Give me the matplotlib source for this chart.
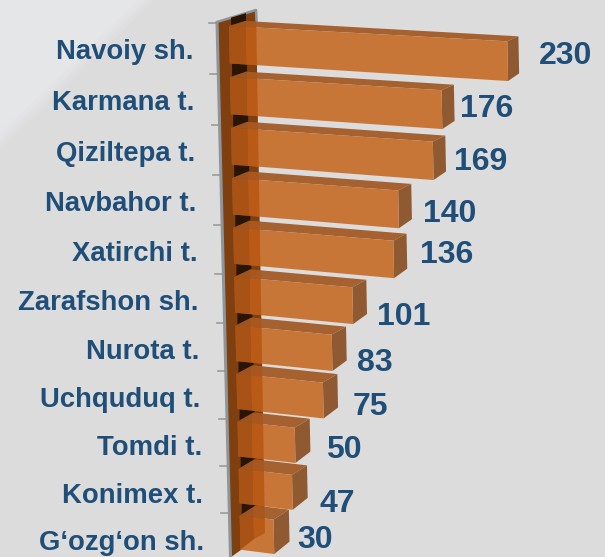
import matplotlib
matplotlib.use("Agg")
import matplotlib.pyplot as plt
from matplotlib.patches import Polygon

categories = ["Navoiy sh.", "Karmana t.", "Qiziltepa t.", "Navbahor t.", "Xatirchi t.",
              "Zarafshon sh.", "Nurota t.", "Uchquduq t.", "Tomdi t.", "Konimex t.", "G\u2018ozg\u2018on sh."]
values = [230, 176, 169, 140, 136, 101, 83, 75, 50, 47, 30]
# label nudges relative to the end of each bar (pixels)
value_nudge = [(58, -5), (45, -1), (47, 1), (51, 5), (53, -4), (51, 11), (43, 10), (47, 7), (49, 5), (45, 12), (41, 3)]

TEXT = "#1F4E79"
FRONT, TOP, SIDE = "#C87538", "#A5612F", "#8F5A31"
WALL, DARK, EDGE = "#7F3F0E", "#2A1503", "#8E9498"

W, H = 605, 557
fig = plt.figure(figsize=(W / 100, H / 100), dpi=100, facecolor="#DCDCDC")
ax = fig.add_axes([0, 0, 1, 1])
ax.set_xlim(0, W)
ax.set_ylim(H, 0)
ax.axis("off")


# ---- perspective projection of (category index, value, height fraction, depth)
def left_x(i): return 229 + 1.07 * i
def top_y(i): return 26 + 51.4 * i - 0.245 * i * i
def height(i): return 37.5 - 0.33 * i
def scale(i): return 1.21 - 0.0082 * i
def slope(i): return 0.055 + 0.0066 * i


def project(i, v, z=0.0, back=False):
    run = scale(i) * v
    x = left_x(i) + run + 0.02 * height(i) * z
    y = top_y(i) + slope(i) * run + (height(i) + 0.008 * run) * z
    if back:
        x += 16 - (x - 235) * 0.018
        y += -(5 + 0.5 * i) - 0.07 * height(i) * z
    return x, y


# ---- background sheen: soft-edged lighter corner
sheen = ["#DEDEDF", "#DFDFE1", "#E1E1E3", "#E2E3E5", "#E4E4E6", "#E5E6E8"]
for k, col in enumerate(sheen):
    r = 155 - 3.5 * k
    ax.add_patch(Polygon([(0, 0), (r, 0), (0, r * 0.97)], fc=col, ec="none"))

# ---- wall
wall_pts = [(217, 22), (256, 10), (265, 533), (231, 557)]
wall = Polygon(wall_pts, fc=WALL, ec="none", zorder=2)
ax.add_patch(wall)
ax.plot([217, 230.5], [22, 557], color=EDGE, lw=2.2, zorder=3, solid_capstyle="butt")
ax.plot([217, 256, 256.5], [22, 10, 21], color=EDGE, lw=1.8, zorder=3)

for i in range(len(values)):
    yt = top_y(i) - 3
    xw = 217 + (yt - 22) * 13.5 / 535
    ax.plot([xw - 8, xw], [yt, yt], color="#9A9A9A", lw=1.2, zorder=2)
    x0, y0 = left_x(i), top_y(i)
    shadow = Polygon([(x0 + 2, y0 - 14), (x0 + 17, y0 - 14), (x0 + 17, y0 - 5), (x0 + 2, y0 + 1)],
                     fc=DARK, ec="none", zorder=3)
    ax.add_patch(shadow)
    shadow.set_clip_path(wall)

band_dark = [(217, 22), (246, 13), (254, 539), (231, 557)]
band_light = [(246, 13), (256, 10), (265, 533), (254, 539)]

# ---- bars, bottom one first so upper bars sit in front
for i in reversed(range(len(values))):
    v = values[i]
    z0 = 4 + (len(values) - i) * 0.1
    top = Polygon([project(i, 0), project(i, v), project(i, v, back=True), project(i, 0, back=True)],
                  fc=TOP, ec="none", zorder=z0)
    side = Polygon([project(i, v), project(i, v, back=True), project(i, v, 1, True), project(i, v, 1)],
                   fc=SIDE, ec="none", zorder=z0)
    front = Polygon([project(i, 0), project(i, v), project(i, v, 1), project(i, 0, 1)],
                    fc=FRONT, ec="none", zorder=z0 + 0.01)
    for p in (top, side, front):
        ax.add_patch(p)
    for pts, col in ((band_dark, "#943B00"), (band_light, "#AF4800")):
        a = Polygon(pts, fc=col, ec="none", alpha=0.6, zorder=z0 + 0.02)
        ax.add_patch(a)
        a.set_clip_path(front)
        b = Polygon(pts, fc=col, ec="none", alpha=0.35, zorder=z0 + 0.02)
        ax.add_patch(b)
        b.set_clip_path(top)

    # category and value labels
    ax.text(193 + 1.1 * i, top_y(i) + 26 + 0.1 * i, categories[i], ha="right", va="center",
            family="Liberation Sans", fontweight="bold", fontsize=19.8, color=TEXT, zorder=20)
    ex, ey = project(i, v, 0.5)
    dx, dy = value_nudge[i]
    ax.text(ex + dx, ey + dy, str(v), ha="center", va="center",
            family="Liberation Sans", fontweight="bold", fontsize=23, color=TEXT, zorder=20)

fig.savefig("out.png", dpi=100, facecolor=fig.get_facecolor())
